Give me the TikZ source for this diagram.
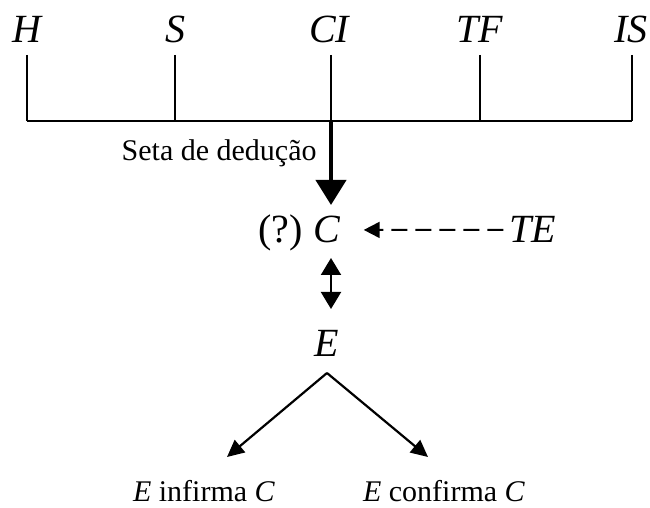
\documentclass[tikz,border=0pt]{standalone}
\usepackage{fontspec}
\setmainfont{Liberation Serif}
\usetikzlibrary{arrows.meta,positioning}

\tikzset{
  letter/.style={font=\fontsize{20}{24}\selectfont\itshape, inner sep=3pt, anchor=base},
  plain/.style={font=\fontsize{20}{24}\selectfont, inner sep=3pt, anchor=base},
  note/.style={font=\fontsize{15}{18}\selectfont, inner sep=3pt, anchor=base},
  tick/.style={line width=0.6pt},
  link/.style={line width=1.1pt, -{Triangle[length=8.5pt,width=8pt]}},
}

\begin{document}
\begin{tikzpicture}[x=0.5pt,y=-0.5pt]
\useasboundingbox (0,0) rectangle (650,508);

% elementos do topo
\node[letter] (h) at (27,43) {H};
\node[letter] (s) at (175,43) {S};
\node[letter] (ci) at (329,43) {CI};
\node[letter] (tf) at (480,43) {TF};
\node[letter] (is) at (631,43) {IS};

\foreach \n/\x in {h/27,s/175,ci/331,tf/480,is/632}{
  \coordinate (\n-top) at (\x,55);
  \coordinate (\n-bot) at (\x,121);
  \draw[tick] (\n-top) -- (\n-bot);
}
\draw[tick] (h-bot) -- (is-bot);

% conclusao
\node[letter] (c) at (327,243) {C};
\node[plain, anchor=base east] (q) at (309,243) {(?)};
\node[letter] (te) at (533,243) {TE};
\node[note, anchor=base east] (seta) at (323,161) {Seta de dedução};
\coordinate (c-top) at (331,205);
\coordinate (c-low) at (331,258);
\coordinate (e-top) at (331,309);

\draw[line width=2pt, -{Triangle[length=12.5pt,width=15pt]}] (ci-bot) -- (c-top);
\draw[line width=1pt, dash pattern=on 8pt off 4pt, -{Triangle[length=8pt,width=8pt]}, shorten >=8.5pt]
  (te.west) -- (c.east);

% evidencia
\node[letter] (e) at (327,357) {E};
\draw[line width=1pt, {Triangle[length=8.5pt,width=10pt]}-{Triangle[length=8.5pt,width=10pt]}]
  (c-low) -- (e-top);

\node[note] (inf) at (204,502) {\textit{E} infirma \textit{C}};
\node[note] (conf) at (444,502) {\textit{E} confirma \textit{C}};
\coordinate (split) at (327,373);
\coordinate (inf-tip) at (227,457);
\coordinate (conf-tip) at (428,457);
\draw[link] (split) -- (inf-tip);
\draw[link] (split) -- (conf-tip);
\end{tikzpicture}
\end{document}
